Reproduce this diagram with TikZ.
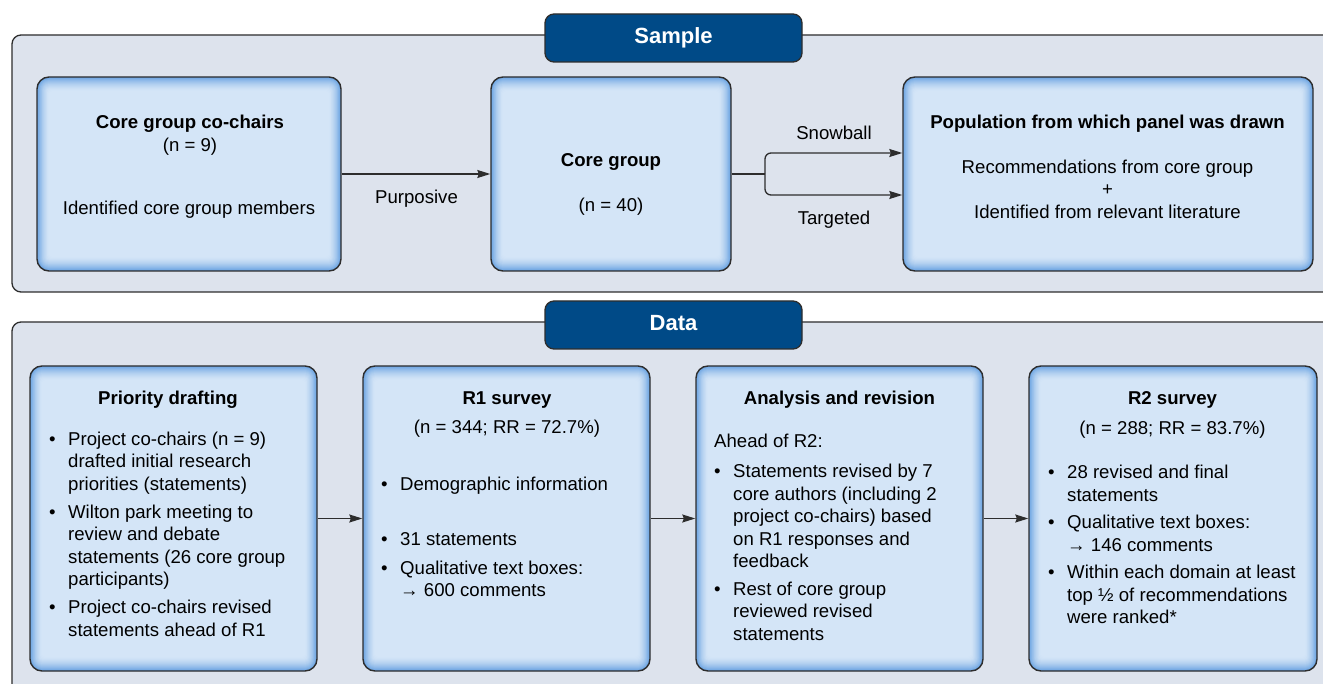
\documentclass[tikz,border=0pt]{standalone}
\usepackage{fontspec}
\setmainfont{Liberation Sans}
\usetikzlibrary{arrows.meta}
\definecolor{panelbg}{RGB}{221,227,237}
\definecolor{titlebg}{RGB}{0,74,135}
\definecolor{boxin}{RGB}{212,229,247}
\definecolor{boxedge}{RGB}{108,164,226}
\definecolor{linec}{RGB}{45,45,45}
\newcommand{\bul}{\makebox[19pt][l]{\textbullet}}
\newcommand{\ind}{\hspace*{19pt}}
\tikzset{
 panel/.style={draw=linec, line width=1.3pt, fill=panelbg, rounded corners=9pt},
 titlebox/.style={draw=linec, line width=1.3pt, fill=titlebg, rounded corners=9pt, text=white,
   font=\fontsize{22}{26}\selectfont\bfseries, inner sep=0pt, text height=16pt, text depth=4.6pt},
 glowbox/.style={draw=linec, line width=1.4pt, rounded corners=12pt, fill=boxedge, inner sep=0pt,
   path picture={\foreach \i in {1,...,14}{
     \pgfmathtruncatemacro\p{100*(1-(1-\i/14)^1.6)}
     \pgfmathsetmacro\r{max(12-0.8*\i,3)}
     \fill[boxin!\p!boxedge, rounded corners=\r pt]
       ([shift={(0.85*\i,\i)}]path picture bounding box.north west) rectangle
       ([shift={(-0.85*\i,-\i)}]path picture bounding box.south east);}}},
 txt/.style={font=\fontsize{18.6}{22.5}\selectfont, inner sep=0pt},
 ttl/.style={font=\fontsize{18.6}{22.5}\selectfont\bfseries, inner sep=0pt},
 arr/.style={draw=linec, line width=1.3pt, -{Stealth[length=13pt,width=8pt,inset=1.5pt]}},
 conn/.style={draw=linec, line width=1.3pt},
}
\newcommand{\gbox}[5]{\node[glowbox, minimum width={(#4-#2)*1pt}, minimum height={(#5-#3)*1pt}]
  (#1) at ({(#2+#4)/2},{(#3+#5)/2}) {};}
\begin{document}
\begin{tikzpicture}[x=1pt,y=-1pt]
\clip (0,0) rectangle (1323,684);
\fill[white] (0,0) rectangle (1323,684);
% ---------- Sample panel ----------
\draw[panel] (12,35) rectangle (1345,292);
\node[titlebox, minimum width=257pt, minimum height=48pt] (sample) at (673.5,38) {Sample};
\gbox{cochairs}{37}{77}{341}{271}
\gbox{core}{491}{77}{731}{271}
\gbox{pop}{903}{77}{1313}{271}
\node[ttl, anchor=base] (t1) at (190,128.3) {Core group co-chairs};
\node[txt, anchor=base] (t1n) at (190,151.5) {(n = 9)};
\node[txt, anchor=base] (t1b) at (189,215) {Identified core group members};
\node[ttl, anchor=base] (t2) at (611,166.7) {Core group};
\node[txt, anchor=base] (t2n) at (611,211.5) {(n = 40)};
\node[ttl, anchor=base] (t3) at (1107.5,128.3) {Population from which panel was drawn};
\node[txt, align=center, anchor=north] (t3b) at (1107.5,157.55)
  {\strut Recommendations from core group\\ +\\ Identified from relevant literature};
\draw[arr] (cochairs.east) -- (core.west);
\node[txt, anchor=base] (lpurp) at (416.5,204) {Purposive};
\coordinate (split) at (765,174);
\coordinate (snowy) at (834,153);
\coordinate (targy) at (834,195);
\draw[conn] (core.east) -- (split);
\draw[arr, rounded corners=6pt] (split) |- (pop.west |- snowy);
\draw[arr, rounded corners=6pt] (split) |- (pop.west |- targy);
\node[txt, anchor=base] (lsnow) at (834,140) {Snowball};
\node[txt, anchor=base] (ltarg) at (834,225) {Targeted};
% ---------- Data panel ----------
\draw[panel] (12,322) rectangle (1345,720);
\node[titlebox, minimum width=257pt, minimum height=48pt] (data) at (673.5,325) {Data};
\gbox{pd}{30}{366}{317}{671}
\gbox{rone}{363}{366}{650}{671}
\gbox{ana}{696}{366}{983}{671}
\gbox{rtwo}{1029}{366}{1317}{671}
\draw[arr] (pd.east) -- (rone.west);
\draw[arr] (rone.east) -- (ana.west);
\draw[arr] (ana.east) -- (rtwo.west);
% Priority drafting
\node[ttl, anchor=base] (pdt) at (168,405) {Priority drafting};
\node[txt, align=left, anchor=north west] (pdx) at (49,429.25)
  {\strut\bul Project co-chairs (n = 9)\\
   \ind drafted initial research\\
   \ind priorities (statements)\\[5.5pt]
   \bul Wilton park meeting to\\
   \ind review and debate\\
   \ind statements (26 core group\\
   \ind participants)\\[5.5pt]
   \bul Project co-chairs revised\\
   \ind statements ahead of R1};
% R1 survey
\node[ttl, anchor=base] (r1t) at (507,405) {R1 survey};
\node[txt, anchor=base] (r1n) at (507,433.5) {(n = 344; RR = 72.7\%)};
\node[txt, align=left, anchor=north west] (r1x) at (381,475)
  {\strut\bul Demographic information\\[32.5pt]
   \bul 31 statements\\[5.8pt]
   \bul Qualitative text boxes:\\
   \ind → 600 comments};
% Analysis and revision
\node[ttl, anchor=base] (at) at (839.5,405) {Analysis and revision};
\node[txt, align=left, anchor=north west] (ax) at (714,431.5)
  {\strut Ahead of R2:\\[7.9pt]
   \bul Statements revised by 7\\
   \ind core authors (including 2\\
   \ind project co-chairs) based\\
   \ind on R1 responses and\\
   \ind feedback\\[4.8pt]
   \bul Rest of core group\\
   \ind reviewed revised\\
   \ind statements};
% R2 survey
\node[ttl, anchor=base] (r2t) at (1172.5,405) {R2 survey};
\node[txt, anchor=base] (r2n) at (1172.5,434.5) {(n = 288; RR = 83.7\%)};
\node[txt, align=left, anchor=north west] (r2x) at (1048,462.55)
  {\strut\bul 28 revised and final\\
   \ind statements\\[5pt]
   \bul Qualitative text boxes:\\
   \ind → 146 comments\\[5pt]
   \bul Within each domain at least\\
   \ind top ½ of recommendations\\
   \ind were ranked*};
\end{tikzpicture}
\end{document}
